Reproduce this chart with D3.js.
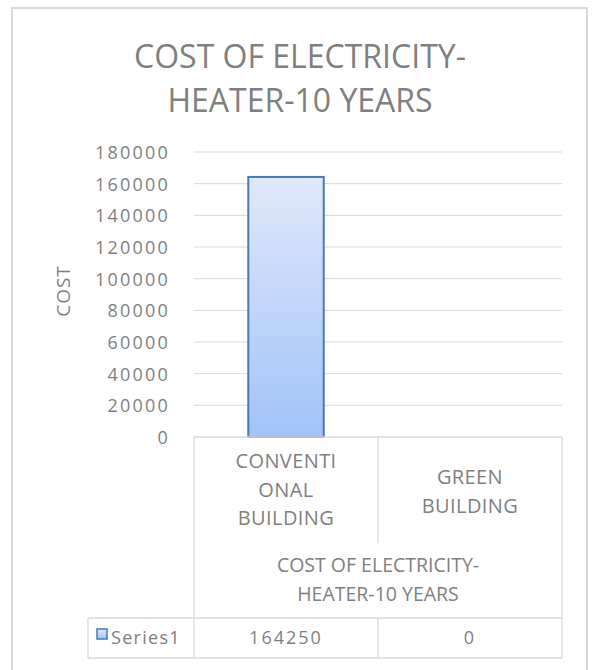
<!DOCTYPE html>
<html>
<head>
<meta charset="utf-8">
<script src="https://cdn.jsdelivr.net/npm/d3@7"></script>
<style>
  body { margin: 0; background: #fff; }
  text { font-family: "Open Sans", sans-serif; fill: #7f7f7f; }
</style>
</head>
<body>
<div id="chart"></div>
<script>
const categories = ["CONVENTIONAL BUILDING", "GREEN BUILDING"];
const categoryLines = [["CONVENTI", "ONAL", "BUILDING"], ["GREEN", "BUILDING"]];
const values = [164250, 0];
const seriesName = "Series1";
const yTicks = [0, 20000, 40000, 60000, 80000, 100000, 120000, 140000, 160000, 180000];
const titleLines = ["COST OF ELECTRICITY-", "HEATER-10 YEARS"];
const groupLines = ["COST OF ELECTRICITY-", "HEATER-10 YEARS"];
const yTitle = "COST";

const width = 592, height = 670;
const grid = "#d9d9d9";

const svg = d3.select("#chart").append("svg")
  .attr("width", width)
  .attr("height", height);

// gradient for the bar
const defs = svg.append("defs");
const grad = defs.append("linearGradient")
  .attr("id", "barFill")
  .attr("x1", 0).attr("y1", 0).attr("x2", 0).attr("y2", 1);
grad.append("stop").attr("offset", "0%").attr("stop-color", "#dfe9fb");
grad.append("stop").attr("offset", "100%").attr("stop-color", "#a2c2f8");

// outer frame
svg.append("rect")
  .attr("x", 12).attr("y", 8)
  .attr("width", 575).attr("height", 680)
  .attr("fill", "none")
  .attr("stroke", grid)
  .attr("stroke-width", 2);

// title
svg.append("g").selectAll("text")
  .data(titleLines)
  .enter().append("text")
  .attr("x", 300)
  .attr("y", (d, i) => 68 + i * 44)
  .attr("text-anchor", "middle")
  .style("font-size", "32px")
  .text(d => d);

const y = d3.scaleLinear().domain([0, 180000]).range([437, 152]);
const x = d3.scaleBand().domain(categories).range([194, 562]);
const barW = x.bandwidth() * 0.41;

// gridlines
svg.append("g").selectAll("line")
  .data(yTicks.slice(1))
  .enter().append("line")
  .attr("x1", 194).attr("x2", 562)
  .attr("y1", d => y(d)).attr("y2", d => y(d))
  .attr("stroke", grid);

// y axis labels
const yAxis = d3.axisLeft(y)
  .tickValues(yTicks)
  .tickFormat(d3.format("d"))
  .tickSize(0)
  .tickPadding(0);
const yg = svg.append("g")
  .attr("transform", "translate(170,0)")
  .call(yAxis);
yg.select(".domain").remove();
yg.selectAll("text")
  .style("font-size", "18px")
  .style("letter-spacing", "2.2px")
  .style("font-family", "\"Open Sans\", sans-serif")
  .attr("fill", "#7f7f7f")
  .attr("dy", "0.36em");

svg.append("text")
  .attr("transform", "translate(70,291) rotate(-90)")
  .attr("text-anchor", "middle")
  .style("font-size", "19px")
  .style("letter-spacing", "1px")
  .text(yTitle);

// bars
svg.append("g").selectAll("rect")
  .data(values)
  .enter().append("rect")
  .attr("x", (d, i) => x(categories[i]) + (x.bandwidth() - barW) / 2)
  .attr("y", d => y(d))
  .attr("width", barW)
  .attr("height", d => y(0) - y(d))
  .attr("fill", "url(#barFill)")
  .attr("stroke", d => d > 0 ? "#4a78b8" : "none")
  .attr("stroke-width", 2);

// data table
const rowTop = 618, rowBot = 658, legendLeft = 88;
const tbl = svg.append("g").attr("stroke", grid).attr("stroke-width", 1.3);
tbl.append("line").attr("x1", 194).attr("x2", 562).attr("y1", y(0)).attr("y2", y(0));
tbl.append("line").attr("x1", legendLeft).attr("x2", 562).attr("y1", rowTop).attr("y2", rowTop);
tbl.append("line").attr("x1", legendLeft).attr("x2", 562).attr("y1", rowBot).attr("y2", rowBot);
tbl.append("line").attr("x1", legendLeft).attr("x2", legendLeft).attr("y1", rowTop).attr("y2", rowBot);
tbl.selectAll(".edge")
  .data([x(categories[0]), x(categories[1]) + x.bandwidth()])
  .enter().append("line")
  .attr("x1", d => d).attr("x2", d => d)
  .attr("y1", y(0)).attr("y2", rowBot);
const mid = x(categories[1]);
tbl.append("line").attr("x1", mid).attr("x2", mid).attr("y1", y(0)).attr("y2", 543);
tbl.append("line").attr("x1", mid).attr("x2", mid).attr("y1", rowTop).attr("y2", rowBot);

// category labels
const catG = svg.append("g").selectAll("g")
  .data(categoryLines)
  .enter().append("g");
catG.each(function (lines, i) {
  const cx = x(categories[i]) + x.bandwidth() / 2;
  const top = lines.length === 3 ? 468 : 484;
  d3.select(this).selectAll("text")
    .data(lines)
    .enter().append("text")
    .attr("x", cx)
    .attr("y", (d, j) => top + j * 28.5)
    .attr("text-anchor", "middle")
    .style("font-size", "20px")
    .style("letter-spacing", "0.4px")
    .text(d => d);
});

// group label
svg.append("g").selectAll("text")
  .data(groupLines)
  .enter().append("text")
  .attr("x", (x(categories[0]) + x(categories[1]) + x.bandwidth()) / 2)
  .attr("y", (d, i) => 572 + i * 29)
  .attr("text-anchor", "middle")
  .style("font-size", "19.5px")
  .text(d => d);

// values row
svg.append("g").selectAll("text")
  .data(values)
  .enter().append("text")
  .attr("x", (d, i) => x(categories[i]) + x.bandwidth() / 2)
  .attr("y", 644)
  .attr("text-anchor", "middle")
  .style("font-size", "18px")
  .style("letter-spacing", "2px")
  .text(d => d);

// legend key
svg.append("rect")
  .attr("x", 97).attr("y", 629)
  .attr("width", 10).attr("height", 10)
  .attr("fill", "url(#barFill)")
  .attr("stroke", "#4a78b8")
  .attr("stroke-width", 1.5);
svg.append("text")
  .attr("x", 111).attr("y", 644)
  .style("font-size", "18px")
  .style("letter-spacing", "1.3px")
  .text(seriesName);
</script>
</body>
</html>
